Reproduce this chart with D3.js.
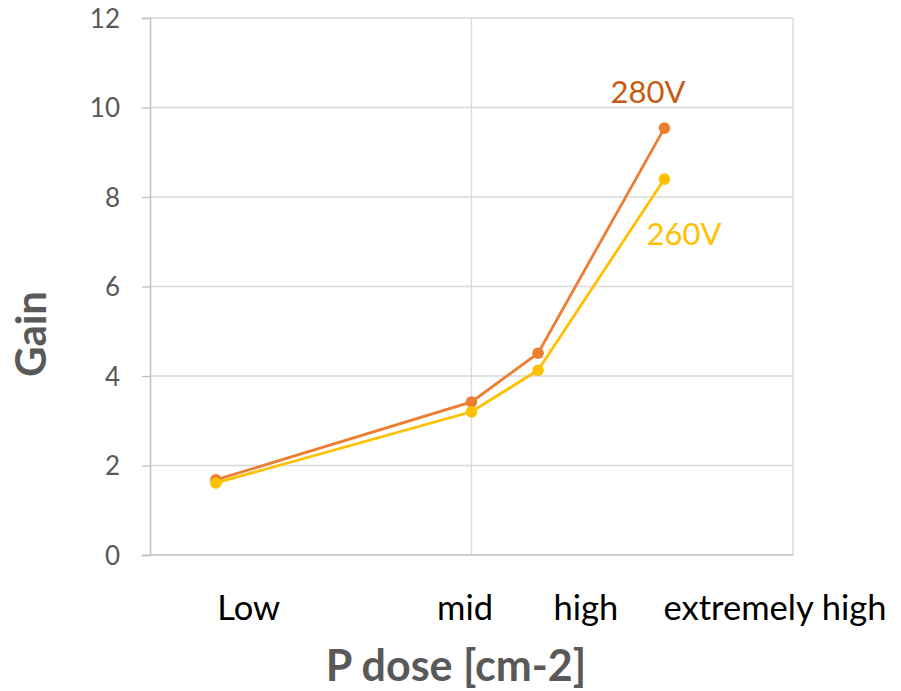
<!DOCTYPE html>
<html>
<head>
<meta charset="utf-8">
<script src="https://cdn.jsdelivr.net/npm/d3@7"></script>
<style>
  body { margin: 0; background: #fff; }
  svg text { font-family: Lato, "Open Sans", sans-serif; }
</style>
</head>
<body>
<svg id="chart" width="901" height="691"></svg>
<script>
// P dose position on the chart's (unlabelled) x axis
const doseX = [0.205, 1.0, 1.207, 1.60];
const gain280 = [1.68, 3.42, 4.51, 9.54];
const gain260 = [1.61, 3.20, 4.13, 8.40];
const categories = ['Low', 'mid', 'high', 'extremely high'];
const categoryX = [0.307, 0.98, 1.356, 1.944];
const yTicks = [0, 2, 4, 6, 8, 10, 12];
const xGrid = [0, 1, 2];

const svg = d3.select('#chart');
const x = d3.scaleLinear().domain([0, 2]).range([150, 793]);
const y = d3.scaleLinear().domain([0, 12]).range([555, 18]);

// gridlines
svg.append('g').selectAll('line')
    .data(yTicks.slice(1))
    .join('line')
    .attr('x1', x(0)).attr('x2', x(2))
    .attr('y1', d => y(d)).attr('y2', d => y(d))
    .attr('stroke', '#d9d9d9').attr('stroke-width', 1.3);

svg.append('g').selectAll('line')
    .data(xGrid.slice(1))
    .join('line')
    .attr('x1', d => x(d)).attr('x2', d => x(d))
    .attr('y1', y(0)).attr('y2', y(12))
    .attr('stroke', '#d9d9d9').attr('stroke-width', 1.3);

// y axis
const yAxis = svg.append('g')
    .attr('transform', `translate(${x(0)},0)`)
    .call(d3.axisLeft(y).tickValues(yTicks).tickSize(8).tickPadding(22));
yAxis.attr('font-size', null).attr('font-family', null);
yAxis.select('.domain').attr('stroke', '#bfbfbf').attr('stroke-width', 1.5);
yAxis.selectAll('.tick line').attr('stroke', '#bfbfbf').attr('stroke-width', 1.3);
yAxis.selectAll('.tick text')
    .attr('fill', '#595959')
    .attr('dy', '0.36em')
    .style('font-size', '26px');

// x axis line
svg.append('line')
    .attr('x1', x(0)).attr('x2', x(2))
    .attr('y1', y(0)).attr('y2', y(0))
    .attr('stroke', '#bfbfbf').attr('stroke-width', 1.5);

// category labels
svg.append('g').selectAll('text')
    .data(categories)
    .join('text')
    .attr('x', (d, i) => x(categoryX[i]))
    .attr('y', 620)
    .attr('text-anchor', 'middle')
    .attr('fill', '#000')
    .style('font-size', '34.5px')
    .text(d => d);

// series
const series = [
    { name: '280V', values: gain280, color: '#ED7D31', labelColor: '#C55A11', lx: 648, ly: 103 },
    { name: '260V', values: gain260, color: '#FFC000', labelColor: '#FFC000', lx: 684, ly: 245 }
];

const line = d3.line()
    .x((d, i) => x(doseX[i]))
    .y(d => y(d));

series.forEach(s => {
    const g = svg.append('g');
    g.append('path')
        .datum(s.values)
        .attr('d', line)
        .attr('fill', 'none')
        .attr('stroke', s.color)
        .attr('stroke-width', 2.8);
    g.selectAll('circle')
        .data(s.values)
        .join('circle')
        .attr('cx', (d, i) => x(doseX[i]))
        .attr('cy', d => y(d))
        .attr('r', 5.8)
        .attr('fill', s.color);
    svg.append('text')
        .attr('x', s.lx)
        .attr('y', s.ly)
        .attr('text-anchor', 'middle')
        .attr('fill', s.labelColor)
        .style('font-size', '31px')
        .text(s.name);
});

// axis titles
svg.append('text')
    .attr('x', 456)
    .attr('y', 681)
    .attr('text-anchor', 'middle')
    .attr('fill', '#595959')
    .style('font-size', '43px')
    .style('font-weight', 'bold')
    .text('P dose [cm-2]');

svg.append('text')
    .attr('transform', 'translate(46,334) rotate(-90)')
    .attr('text-anchor', 'middle')
    .attr('fill', '#595959')
    .style('font-size', '42px')
    .style('font-weight', 'bold')
    .text('Gain');
</script>
</body>
</html>
